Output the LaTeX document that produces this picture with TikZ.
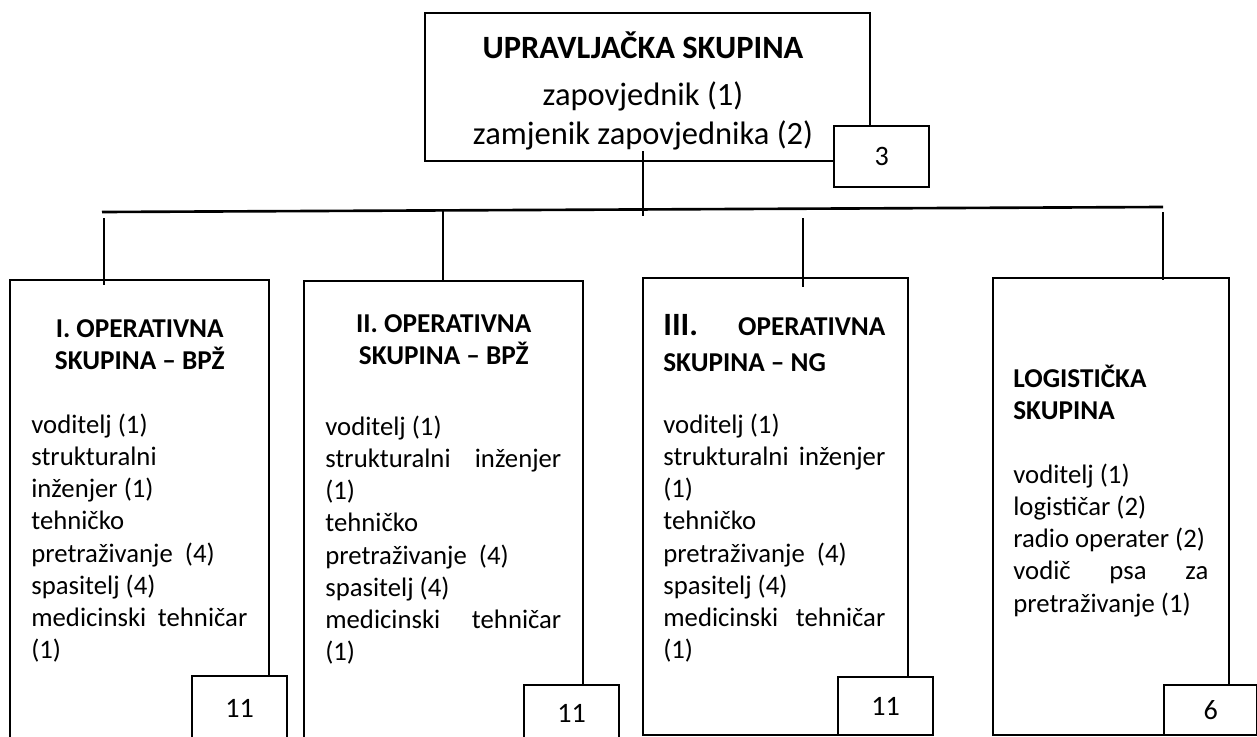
\documentclass[tikz,border=0pt]{standalone}
\usepackage{fontspec}
\setmainfont{Carlito}
\usetikzlibrary{positioning,calc}

\begin{document}
\begin{tikzpicture}[
  grpbox/.style={draw, line width=1.4pt, anchor=north west, inner sep=0pt},
  cntbox/.style={draw, fill=white, line width=1.4pt, anchor=north west, inner sep=0pt,
    minimum width=1.9cm, font=\fontsize{16}{19}\selectfont},
  head/.style={inner sep=0pt, font=\fontsize{15.5}{18.3}\selectfont\bfseries},
  body/.style={inner sep=0pt, anchor=north west, align=flush left, font=\fontsize{15.2}{18.3}\selectfont},
  link/.style={line width=1.1pt},
  bus/.style={line width=1.5pt},
]
  \useasboundingbox (0,0) rectangle (25.14,-14.72);
  \clip (0,0) rectangle (25.14,-14.72);

  % Command group
  \node[draw, line width=1.4pt, minimum width=8.9cm, minimum height=2.96cm] (top) at (12.95,-1.74) {};
  \node[align=center, inner sep=0pt, font=\fontsize{18.5}{22}\selectfont] (toptxt)
    at ([xshift=-0.09cm, yshift=-0.08cm]top.center)
    {\textbf{UPRAVLJAČKA SKUPINA}\\[5pt]zapovjednik (1)\\zamjenik zapovjednika (2)};
  \node[cntbox, minimum height=1.22cm] (c0) at (16.66,-2.50) {3};

  % Sub groups
  \node[grpbox, minimum width=5.18cm, minimum height=9.22cm] (g1) at (0.18,-5.58) {};
  \node[grpbox, minimum width=5.58cm, minimum height=9.20cm] (g2) at (6.06,-5.60) {};
  \node[grpbox, minimum width=5.30cm, minimum height=9.14cm] (g3) at (12.84,-5.54) {};
  \node[grpbox, minimum width=4.72cm, minimum height=9.14cm] (g4) at (19.84,-5.54) {};

  % Headings
  \node[head, anchor=north, align=center] (h1) at ([yshift=-0.80cm]g1.north)
    {I. OPERATIVNA\\SKUPINA – BPŽ};
  \node[head, anchor=north, align=center] (h2) at ([yshift=-0.68cm]g2.north)
    {II. OPERATIVNA\\SKUPINA – BPŽ};
  \node[head, anchor=north west, align=flush left, text width=4.44cm] (h3)
    at ([shift={(0.42cm,-0.74cm)}]g3.north west)
    {{\fontsize{18.5}{18.3}\selectfont III.}\hfill OPERATIVNA\\[2pt]SKUPINA – NG};
  \node[head, anchor=north west, align=left] (h4) at ([shift={(0.42cm,-1.76cm)}]g4.north west)
    {LOGISTIČKA\\SKUPINA};

  % Members
  \node[body, text width=4.32cm] (b1) at ([shift={(0.44cm,-2.69cm)}]g1.north west)
    {voditelj (1)\\strukturalni\\inženjer (1)\\tehničko\\pretraživanje~~(4)\\spasitelj (4)\\medicinski\hfill tehničar\\(1)};
  \node[body, text width=4.72cm] (b2) at ([shift={(0.44cm,-2.71cm)}]g2.north west)
    {voditelj (1)\\strukturalni\hfill inženjer\\(1)\\tehničko\\pretraživanje~~(4)\\spasitelj (4)\\medicinski\hfill tehničar\\(1)};
  \node[body, text width=4.44cm] (b3) at ([shift={(0.42cm,-2.73cm)}]g3.north west)
    {voditelj (1)\\strukturalni\hfill inženjer\\(1)\\tehničko\\pretraživanje~~(4)\\spasitelj (4)\\medicinski\hfill tehničar\\(1)};
  \node[body, text width=3.90cm] (b4) at ([shift={(0.42cm,-3.73cm)}]g4.north west)
    {voditelj (1)\\logističar (2)\\radio operater (2)\\vodič\hfill psa\hfill za\\pretraživanje (1)};

  % Head counts
  \node[cntbox, minimum height=1.30cm] (c1) at (3.82,-13.50) {11};
  \node[cntbox, minimum height=1.12cm] (c2) at (10.46,-13.68) {11};
  \node[cntbox, minimum height=1.16cm] (c3) at (16.74,-13.52) {11};
  \node[cntbox, minimum width=1.86cm, minimum height=1.00cm] (c4) at (23.26,-13.68) {6};

  % Connectors
  \coordinate (bw) at (2.04,-4.24);
  \coordinate (be) at (23.26,-4.14);
  \coordinate (hub) at (12.86,-4.32);
  \coordinate (d1) at (2.08,-4.36);
  \coordinate (d2) at (8.86,-4.21);
  \coordinate (d3) at (16.06,-4.36);
  \coordinate (d4) at (23.26,-4.24);
  \draw[bus] (bw) -- (be);
  \draw[link, shorten <=-0.22cm] (hub |- top.south) -- (hub);
  \draw[link, shorten >=-0.12cm] (d1) -- (d1 |- g1.north);
  \draw[link] (d2) -- (d2 |- g2.north);
  \draw[link, shorten >=-0.20cm] (d3) -- (d3 |- g3.north);
  \draw[link, shorten >=-0.06cm] (d4) -- (d4 |- g4.north);
\end{tikzpicture}
\end{document}
